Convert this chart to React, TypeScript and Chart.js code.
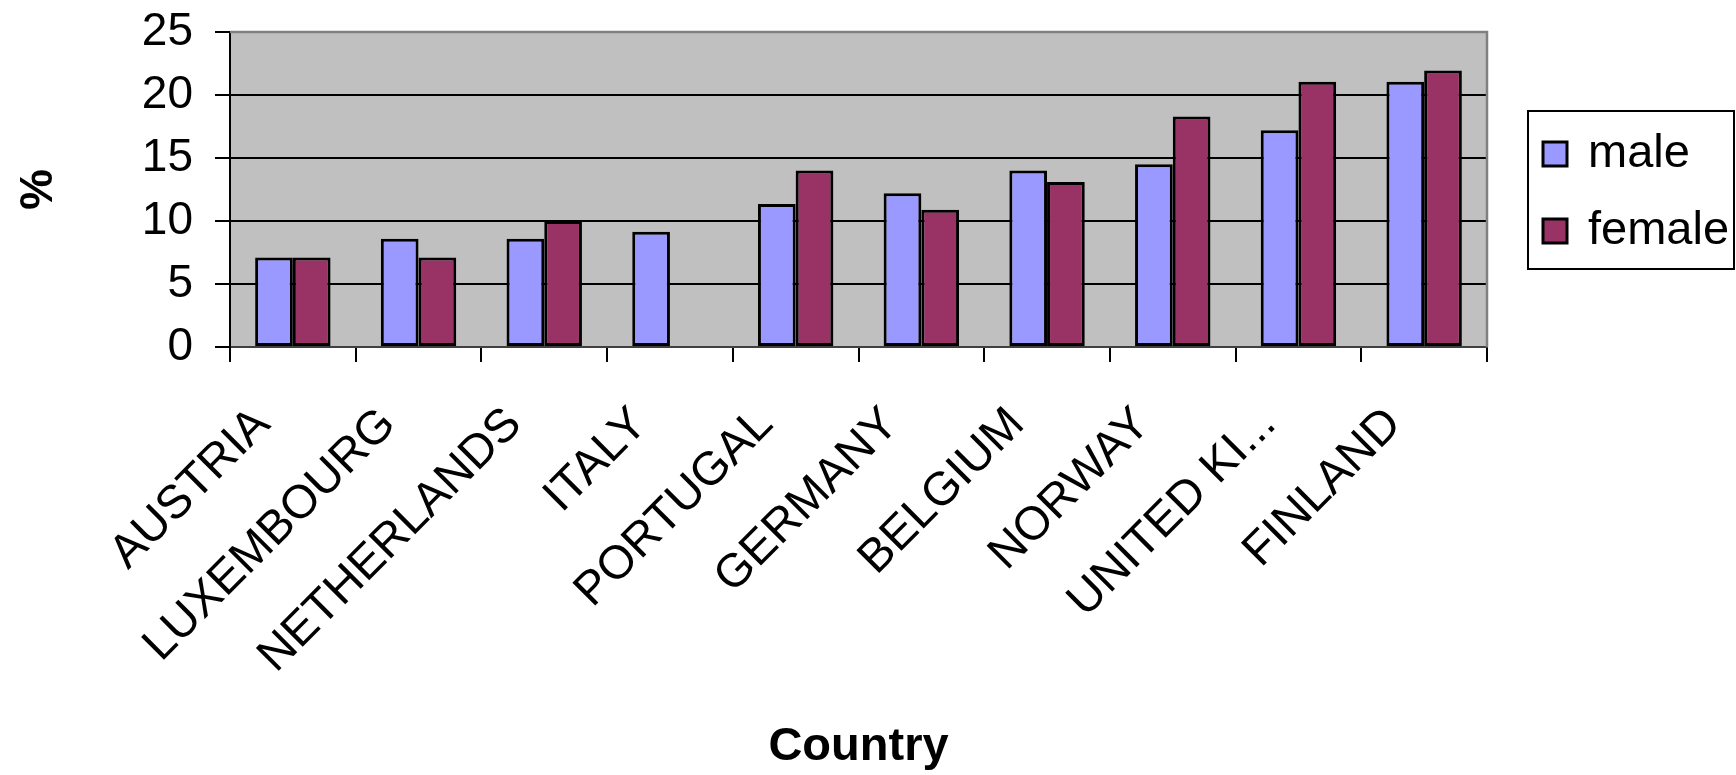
import React, { useEffect, useRef } from "react";
import { Chart, registerables } from "chart.js";

Chart.register(...registerables);

const categories = [
  "AUSTRIA",
  "LUXEMBOURG",
  "NETHERLANDS",
  "ITALY",
  "PORTUGAL",
  "GERMANY",
  "BELGIUM",
  "NORWAY",
  "UNITED KI...",
  "FINLAND",
];
const maleValues = [7.1, 8.6, 8.6, 9.15, 11.35, 12.2, 14.0, 14.5, 17.2, 21.05];
const femaleValues: (number | null)[] = [7.1, 7.1, 10.0, null, 14.0, 10.9, 13.1, 18.3, 21.05, 21.95];
const seriesNames = ["male", "female"];
const seriesColors = ["#9999FF", "#993366"];
const yTicks = { min: 0, max: 25, step: 5 };
const xTitle = "Country";
const yTitle = "%";

const FONT = "'Liberation Sans', Arial, Helvetica, sans-serif";

const plotBackground = {
  id: "plotBackground",
  beforeDraw(chart: any) {
    const { ctx, chartArea } = chart;
    ctx.save();
    ctx.fillStyle = "#C0C0C0";
    ctx.fillRect(chartArea.left, chartArea.top, chartArea.right - chartArea.left, chartArea.bottom - chartArea.top);
    ctx.restore();
  },
  afterDraw(chart: any) {
    const { ctx, chartArea } = chart;
    ctx.save();
    ctx.strokeStyle = "#808080";
    ctx.lineWidth = 2.5;
    ctx.beginPath();
    ctx.moveTo(chartArea.left, chartArea.top);
    ctx.lineTo(chartArea.right, chartArea.top);
    ctx.lineTo(chartArea.right, chartArea.bottom);
    ctx.stroke();
    ctx.restore();
  },
};

const boxLegend = {
  id: "boxLegend",
  afterDraw(chart: any) {
    const { ctx } = chart;
    const datasets = chart.data.datasets;
    const boxLeft = 1528;
    const boxTop = 111;
    const boxRight = 1734;
    const boxBottom = 269;
    ctx.save();
    ctx.fillStyle = "#FFFFFF";
    ctx.fillRect(boxLeft, boxTop, boxRight - boxLeft, boxBottom - boxTop);
    ctx.strokeStyle = "#000000";
    ctx.lineWidth = 2;
    ctx.strokeRect(boxLeft, boxTop, boxRight - boxLeft, boxBottom - boxTop);
    const rowCenters = [154, 231];
    datasets.forEach((ds: any, i: number) => {
      const cy = rowCenters[i];
      ctx.fillStyle = ds.backgroundColor;
      ctx.fillRect(1543, cy - 12, 24, 24);
      ctx.strokeStyle = "#000000";
      ctx.lineWidth = 3;
      ctx.strokeRect(1543, cy - 12, 24, 24);
      ctx.fillStyle = "#000000";
      ctx.font = `47px ${FONT}`;
      ctx.textAlign = "left";
      ctx.textBaseline = "middle";
      ctx.fillText(ds.label, 1588, cy);
    });
    ctx.restore();
  },
};

export default function App() {
  const canvasRef = useRef<HTMLCanvasElement | null>(null);

  useEffect(() => {
    if (!canvasRef.current) return;
    Chart.defaults.color = "#000000";
    Chart.defaults.font.family = FONT;
    const chart = new Chart(canvasRef.current, {
      type: "bar",
      data: {
        labels: categories,
        datasets: [
          {
            label: seriesNames[0],
            data: maleValues,
            backgroundColor: seriesColors[0],
            borderColor: "#000000",
            borderWidth: 3,
            borderSkipped: false,
          },
          {
            label: seriesNames[1],
            data: femaleValues,
            backgroundColor: seriesColors[1],
            borderColor: "#000000",
            borderWidth: 3,
            borderSkipped: false,
          },
        ],
      },
      options: {
        responsive: false,
        animation: false,
        devicePixelRatio: 1,
        layout: { padding: { top: 32, right: 249, left: 0, bottom: 0 } },
        datasets: {
          bar: { categoryPercentage: 0.6, barPercentage: 1.0 },
        },
        plugins: {
          legend: { display: false },
          tooltip: { enabled: false },
        },
        scales: {
          x: {
            afterFit: (scale: any) => {
              scale.height = 428;
              scale.paddingLeft = 0;
              scale.paddingRight = 0;
              scale.paddingTop = 0;
              scale.paddingBottom = 0;
            },
            grid: {
              drawOnChartArea: false,
              drawTicks: true,
              tickLength: 15,
              tickColor: "#000000",
              lineWidth: 2,
              offset: true,
            },
            border: { display: true, color: "#404040", width: 2 },
            ticks: {
              autoSkip: false,
              minRotation: 45,
              maxRotation: 45,
              labelOffset: -30,
              padding: 35,
              color: "#000000",
              font: { size: 47, family: FONT },
            },
            title: {
              display: true,
              text: xTitle,
              color: "#000000",
              font: { size: 47, weight: "bold", family: FONT },
              padding: { top: 0, bottom: 0 },
            },
          },
          y: {
            min: yTicks.min,
            max: yTicks.max,
            afterFit: (scale: any) => {
              scale.width = 230;
              scale.paddingTop = 0;
              scale.paddingBottom = 0;
              scale.paddingLeft = 0;
              scale.paddingRight = 0;
            },
            grid: {
              drawOnChartArea: true,
              drawTicks: true,
              tickLength: 15,
              color: (c: any) => (c.tick && c.tick.value === yTicks.max ? "#808080" : "#000000"),
              tickColor: "#000000",
              lineWidth: 2,
            },
            border: { display: true, color: "#000000", width: 2 },
            ticks: {
              stepSize: yTicks.step,
              padding: 22,
              color: "#000000",
              font: { size: 46, family: FONT },
            },
            title: {
              display: true,
              text: yTitle,
              color: "#000000",
              font: { size: 46, weight: "bold", family: FONT },
              padding: { top: 12, bottom: 0 },
            },
          },
        },
      },
      plugins: [plotBackground, boxLegend],
    });
    return () => chart.destroy();
  }, []);

  return (
    <div style={{ position: "absolute", left: 0, top: 0, width: 1736, height: 775, background: "#FFFFFF" }}>
      <canvas ref={canvasRef} width={1736} height={775} style={{ display: "block" }} />
    </div>
  );
}
